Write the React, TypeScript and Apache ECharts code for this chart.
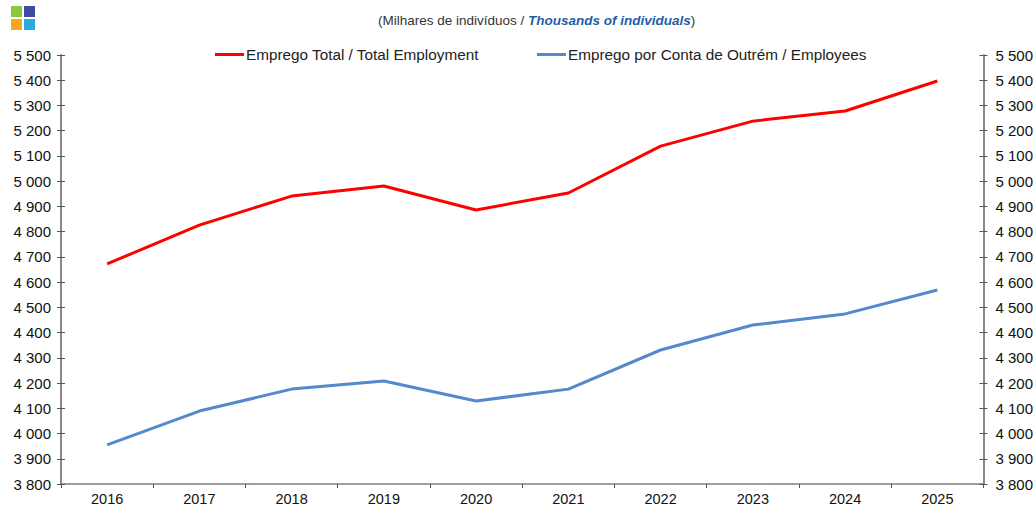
import React, { useEffect, useRef } from "react";
import * as echarts from "echarts";

const years = ["2016", "2017", "2018", "2019", "2020", "2021", "2022", "2023", "2024", "2025"];
const totalEmployment = [4672, 4826, 4941, 4981, 4886, 4953, 5139, 5238, 5278, 5397];
const employees = [3955, 4089, 4176, 4208, 4129, 4176, 4331, 4430, 4474, 4569];
const seriesNames = ["Emprego Total / Total Employment", "Emprego por Conta de Outrém / Employees"];
const yMin = 3800;
const yMax = 5500;
const yStep = 100;

const fmt = (v: number) => {
  const s = String(Math.round(v));
  return s.replace(/\B(?=(\d{3})+(?!\d))/g, " ");
};

export default function App() {
  const ref = useRef<HTMLDivElement>(null);
  useEffect(() => {
    if (!ref.current) return;
    const chart = echarts.init(ref.current, null, { renderer: "svg" });
    const font = "'Liberation Sans', Arial, sans-serif";
    const axisColor = "#808080";
    const baseY = (position: "left" | "right", showLabel: boolean, inside: boolean) => ({
      type: "value" as const,
      position,
      min: yMin,
      max: yMax,
      interval: yStep,
      splitLine: { show: false },
      axisLine: { show: true, lineStyle: { color: axisColor, width: 1.5 } },
      axisTick: { show: true, inside, length: 4, lineStyle: { color: "#555", width: 1 } },
      axisLabel: {
        show: showLabel,
        formatter: fmt,
        color: "#111",
        fontSize: 15,
        fontFamily: font,
        margin: position === "left" ? 10 : 12,
      },
    });
    chart.setOption({
      animation: false,
      backgroundColor: "#ffffff",
      graphic: [
        { type: "rect", shape: { x: 11, y: 6, width: 11, height: 11 }, style: { fill: "#8dc63f" } },
        { type: "rect", shape: { x: 24, y: 6, width: 11, height: 11 }, style: { fill: "#3f4aa0" } },
        { type: "rect", shape: { x: 11, y: 19, width: 11, height: 11 }, style: { fill: "#f7a81b" } },
        { type: "rect", shape: { x: 24, y: 19, width: 11, height: 11 }, style: { fill: "#29abe2" } },
      ],
      title: {
        text: "{a|(Milhares de indivíduos / }{b|Thousands of individuals}{a|)}",
        left: 373,
        top: 8,
        textStyle: {
          fontWeight: "normal",
          rich: {
            a: { fontSize: 13.5, color: "#333", fontFamily: font, fontWeight: "normal" },
            b: { fontSize: 13.5, color: "#1f5fa8", fontFamily: font, fontStyle: "italic", fontWeight: "bold" },
          },
        },
      },
      legend: {
        top: 42,
        left: 210,
        itemGap: 58,
        itemWidth: 29,
        itemHeight: 3,
        icon: "rect",
        textStyle: { fontSize: 15.3, color: "#222", fontFamily: font, padding: [0, 0, 0, -3] },
        data: seriesNames,
      },
      grid: { left: 61, right: 51, top: 55, bottom: 22, containLabel: false },
      xAxis: {
        type: "category",
        data: years,
        boundaryGap: true,
        axisLine: { lineStyle: { color: axisColor, width: 1.5 } },
        axisTick: { show: true, length: 4, lineStyle: { color: "#555" } },
        axisLabel: { color: "#111", fontSize: 14.5, fontFamily: font, margin: 7 },
      },
      yAxis: [
        baseY("left", true, false),
        baseY("left", false, true),
        baseY("right", true, false),
        baseY("right", false, true),
      ],
      series: [
        {
          name: seriesNames[0],
          type: "line",
          data: totalEmployment,
          yAxisIndex: 0,
          showSymbol: false,
          lineStyle: { color: "#ff0000", width: 3 },
          itemStyle: { color: "#ff0000" },
        },
        {
          name: seriesNames[1],
          type: "line",
          data: employees,
          yAxisIndex: 0,
          showSymbol: false,
          lineStyle: { color: "#5588cc", width: 3 },
          itemStyle: { color: "#5588cc" },
        },
      ],
    });
    return () => chart.dispose();
  }, []);
  return <div ref={ref} style={{ position: "fixed", left: 0, top: 0, width: 1036, height: 506 }} />;
}
